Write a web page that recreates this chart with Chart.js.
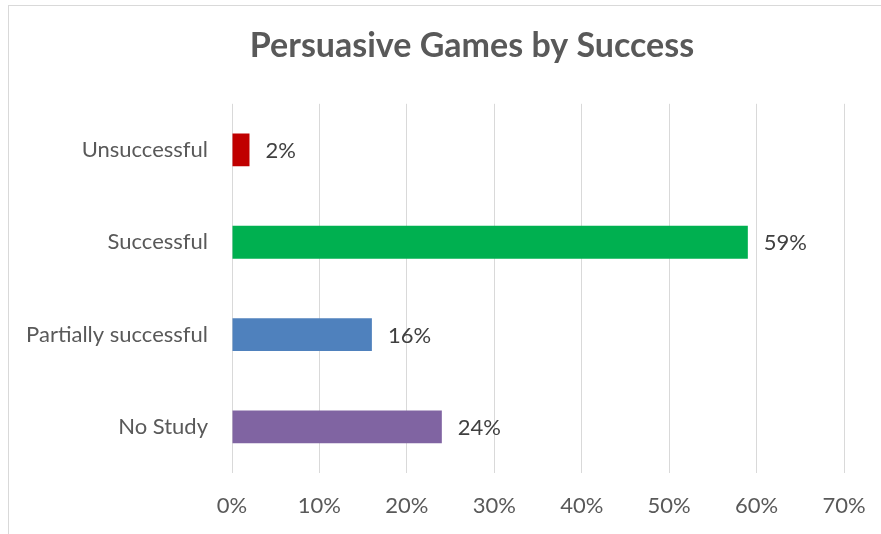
<!DOCTYPE html>
<html>
<head>
<meta charset="utf-8">
<script src="https://cdn.jsdelivr.net/npm/chart.js@4"></script>
<style>
  html, body { margin: 0; padding: 0; background: #ffffff; overflow: hidden; }
  #frame { position: absolute; left: 8px; top: 5px; width: 1000px; height: 1000px;
           border: 1px solid #d9d9d9; box-sizing: border-box; }
  #wrap { position: absolute; left: 0; top: 0; width: 881px; height: 534px; }
</style>
</head>
<body>
<div id="frame"></div>
<div id="wrap"><canvas id="chart" width="881" height="534"></canvas></div>
<script>
// Share of persuasive games by outcome of their evaluation
const categories = ['Unsuccessful', 'Successful', 'Partially successful', 'No Study'];
const shares = [2, 59, 16, 24];
const barColors = ['#C00000', '#00B050', '#4F81BD', '#8064A2'];
const tickValues = [0, 10, 20, 30, 40, 50, 60, 70];

const FONT = "Lato, 'Open Sans', 'DejaVu Sans', sans-serif";

// Value labels to the right of each bar
const valueLabels = {
  id: 'valueLabels',
  afterDatasetsDraw(chart) {
    const ctx = chart.ctx;
    const meta = chart.getDatasetMeta(0);
    ctx.save();
    ctx.font = '22px ' + FONT;
    ctx.fillStyle = '#404040';
    ctx.textAlign = 'left';
    ctx.textBaseline = 'middle';
    meta.data.forEach((bar, i) => {
      ctx.fillText(shares[i] + '%', bar.x + 16, bar.y + 1);
    });
    ctx.restore();
  }
};

// Centre the title on the whole framed chart rather than the plot block
const titleShift = {
  id: 'titleShift',
  afterLayout(chart) {
    if (chart.titleBlock) chart.titleBlock.left = 100;
  }
};

new Chart(document.getElementById('chart'), {
  type: 'bar',
  data: {
    labels: categories,
    datasets: [{
      data: shares,
      backgroundColor: barColors,
      borderWidth: 0,
      categoryPercentage: 1,
      barPercentage: 0.355
    }]
  },
  options: {
    indexAxis: 'y',
    responsive: false,
    animation: false,
    devicePixelRatio: 1,
    layout: { padding: { left: 0, right: 37, top: 0, bottom: 0 } },
    plugins: {
      legend: { display: false },
      tooltip: { enabled: false },
      title: {
        display: true,
        text: 'Persuasive Games by Success',
        color: '#595959',
        font: { family: FONT, size: 34, weight: 'bold', lineHeight: 1.2 },
        padding: { top: 26, bottom: 37 }
      }
    },
    scales: {
      x: {
        min: 0,
        max: 70,
        afterBuildTicks(scale) {
          scale.ticks = tickValues.map(v => ({ value: v }));
        },
        afterFit(scale) {
          scale.height = 61;
          scale.paddingLeft = 0;
          scale.paddingRight = 0;
        },
        grid: { color: '#d9d9d9', lineWidth: 1, drawTicks: false },
        border: { display: false },
        ticks: {
          padding: 20,
          color: '#595959',
          font: { family: FONT, size: 22 },
          callback: v => v + '%'
        }
      },
      y: {
        afterFit(scale) { scale.width = 232; },
        grid: { display: false, drawTicks: false },
        border: { display: false },
        ticks: {
          padding: 24,
          color: '#595959',
          font: { family: FONT, size: 22 }
        }
      }
    }
  },
  plugins: [valueLabels, titleShift]
});
</script>
</body>
</html>
